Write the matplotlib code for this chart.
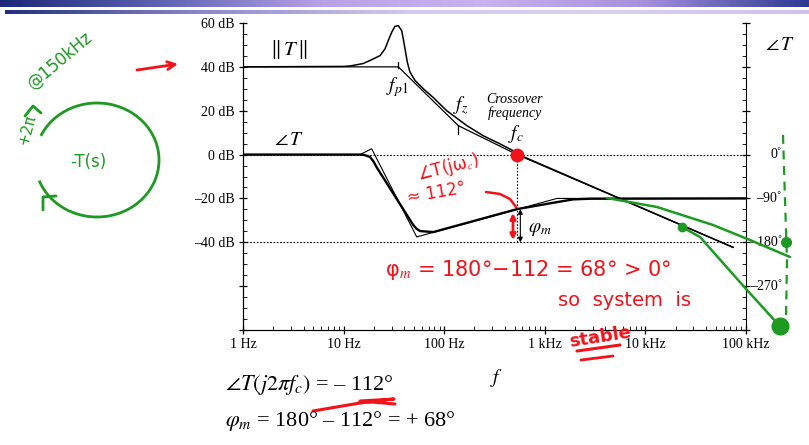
import matplotlib.pyplot as plt
import matplotlib.transforms as mtransforms
from matplotlib.colors import LinearSegmentedColormap
from matplotlib.lines import Line2D
from matplotlib.patches import FancyArrowPatch, Arc
from matplotlib.ticker import FixedLocator, MultipleLocator, LogLocator, NullFormatter
import numpy as np

plt.rcParams['font.family'] = ['Liberation Serif', 'DejaVu Serif', 'DejaVu Sans']
plt.rcParams['mathtext.fontset'] = 'stix'

W, H = 809, 445

# loop gain magnitude ||T|| (dB), exact curve
mag_f = [1, 10, 11.6, 15.6, 18.3, 23.0, 25.8, 27.8, 30.1, 32.4, 35.0, 37.8, 39.2, 40.8,
         43.0, 45.7, 51.3, 62.0, 77.9, 106, 168, 244, 358, 483, 529, 74300]
mag_db = [40, 40.2, 40.4, 41.5, 42.9, 45.1, 48.2, 52, 55.8, 58.5, 58.8, 56.5, 52.7, 48.2,
          42.1, 37.6, 33.8, 30.0, 26, 20, 13.2, 8.6, 4.9, 1.8, 0.3, -42.3]
# magnitude asymptotes
mag_asym_f = [1, 35.0, 138, 529, 74300]
mag_asym_db = [40, 40, 13.2, 0, -42.3]

# phase of T (deg), exact and asymptotes
ph_f = [1, 14.6, 16.2, 18.3, 19.8, 21.3, 49.4, 53, 57.5, 78, 529, 1318, 1910, 2800, 1e5]
ph_deg = [0, 0, -1, -5, -14, -26, -145, -152, -157, -159, -112, -97.6, -92, -90.6, -90]
ph_asym_f = [1, 14.6, 19.0, 53.3, 1318, 1e5]
ph_asym_deg = [0, 0, 12, -169, -90, -90]

fp1, fz, fc = 35.0, 138, 529
phase_fc = -112

mag_labels = ['60 dB', '40 dB', '20 dB', '0 dB', '–20 dB', '–40 dB']
ph_ticks = [0, -90, -180, -270]
ph_labels = ['0˚', '–90˚', '–180˚', '–270˚']
f_ticks = [1, 10, 100, 1e3, 1e4, 1e5]
f_labels = ['1 Hz', '10 Hz', '100 Hz', '1 kHz', '10 kHz', '100 kHz']

fig = plt.figure(figsize=(W / 100, H / 100), dpi=100)
ax = fig.add_axes([243 / W, 1 - 330 / H, 503 / W, 307 / H])
ax2 = ax.twinx()

# header bars
cm1 = LinearSegmentedColormap.from_list('b1', ['#1b2878', '#5f63b4', '#b9a3e6', '#c9b2ee', '#a58fdc', '#2c3a92'])
cm2 = LinearSegmentedColormap.from_list('b2', ['#23307f', '#8d8ccc', '#d4c8f0', '#d9cff3', '#cfc1ef'])
grad = np.linspace(0, 1, 256)[None, :]
bar1 = fig.add_axes([0, 1 - 7 / H, 1, 7 / H])
bar1.imshow(grad, cmap=cm1, aspect='auto')
bar1.axis('off')
bar2 = fig.add_axes([5 / W, 1 - 14 / H, 1 - 5 / W, 4 / H])
bar2.imshow(grad, cmap=cm2, aspect='auto')
bar2.axis('off')

# magnitude
ax.plot(mag_asym_f, mag_asym_db, color='k', lw=0.9)
ax.plot(mag_f, mag_db, color='k', lw=1.1)
ax.plot([fp1, fp1], [39.3, 42.1], color='k', lw=0.9)
ax.plot([fz, fz], [9.5, 13.5], color='k', lw=0.9)
ax.axhline(0, color='k', ls=(0, (1.5, 1.5)), lw=0.8)
ax.axhline(-40, color='k', ls=(0, (1.5, 1.5)), lw=0.8)
ax.plot([fc, fc], [-40, 0], color='k', ls=(0, (1.5, 1.5)), lw=0.8)

# phase
ax2.plot(ph_asym_f, ph_asym_deg, color='k', lw=0.8)
ax2.plot(ph_f, ph_deg, color='k', lw=1.7)
ax2.annotate('', xy=(fc * 1.08, -180), xytext=(fc * 1.08, phase_fc),
             arrowprops=dict(arrowstyle='<|-|>', color='k', lw=0.8, mutation_scale=7, shrinkA=0, shrinkB=0))

ax.set_xscale('log')
ax.set_xlim(1, 1e5)
ax.set_ylim(-80, 60)
ax2.set_ylim(-360, 270)

for a in (ax, ax2):
    a.spines['top'].set_visible(False)
ax.spines['right'].set_visible(False)

ax.yaxis.set_major_locator(FixedLocator([60, 40, 20, 0, -20, -40, -60, -80]))
ax.set_yticklabels(mag_labels + ['', ''])
ax.yaxis.set_minor_locator(MultipleLocator(5))
ax.xaxis.set_major_locator(FixedLocator(f_ticks))
ax.set_xticklabels(f_labels)
ax.xaxis.set_minor_locator(LogLocator(base=10, subs=np.arange(2, 10)))
ax.xaxis.set_minor_formatter(NullFormatter())
ax.tick_params(axis='both', which='major', direction='inout', length=6, width=0.9, labelsize=10, pad=3)
ax.tick_params(axis='both', which='minor', direction='in', length=3, width=0.6)

ax2.yaxis.set_major_locator(FixedLocator([270, 180, 90, 0, -90, -180, -270, -360]))
ax2.yaxis.set_major_formatter(NullFormatter())
ax2.yaxis.set_minor_locator(MultipleLocator(22.5))
ax2.tick_params(axis='y', which='major', direction='inout', length=6, width=0.9)
ax2.tick_params(axis='y', which='minor', direction='in', length=3, width=0.6)
trans = mtransforms.blended_transform_factory(fig.transFigure, ax2.transData)
for d, lab in zip(ph_ticks, ph_labels):
    ax2.text(782 / W, d, lab, transform=trans, ha='right', va='center', fontsize=10)

# labels on the chart
ax.text(2.87, 48, r'$\Vert\, T\, \Vert$', ha='center', va='center', fontsize=15)
ax.text(2.87, 6.4, r'$\angle\, T$', ha='center', va='center', fontsize=14)
fig.text(795 / W, 1 - 45 / H, r'$\angle\, T$', ha='right', va='center', fontsize=14)
ax.text(33.9, 30.9, r'$f_{p1}$', ha='center', va='center', fontsize=14)
ax.text(147, 22.3, r'$f_z$', ha='center', va='center', fontsize=14)
ax.text(505, 21.8, 'Crossover\nfrequency', ha='center', va='center', fontsize=10,
        style='italic', linespacing=1.0)
ax.text(519, 9.5, r'$f_c$', ha='center', va='center', fontsize=14)
ax2.text(893, -153, r'$\varphi_m$', ha='center', va='center', fontsize=14)
fig.text(497 / W, 1 - 378 / H, r'$f$', ha='center', va='center', fontsize=14)

fig.text(225 / W, 1 - 385 / H, r'$\angle T(j2\pi f_c)$ = – 112°', ha='left', va='center', fontsize=16)
fig.text(225 / W, 1 - 421 / H, r'$\varphi_m$ = 180° – 112° = + 68°', ha='left', va='center', fontsize=16)

# handwritten notes
red, green = '#f4121a', '#1c9a22'


def stroke(pts, color, lw=2.2, **kw):
    xs = [p[0] / W for p in pts]
    ys = [1 - p[1] / H for p in pts]
    fig.add_artist(Line2D(xs, ys, color=color, lw=lw, solid_capstyle='round',
                          solid_joinstyle='round', **kw))


def arrow(p0, p1, color, style='-|>', lw=2.0, ms=10):
    fig.add_artist(FancyArrowPatch((p0[0] / W, 1 - p0[1] / H), (p1[0] / W, 1 - p1[1] / H),
                                   transform=fig.transFigure, arrowstyle=style, color=color,
                                   lw=lw, mutation_scale=ms, shrinkA=0, shrinkB=0))


hand = dict(family='DejaVu Sans')
ax.plot(fc, 0, 'o', color=red, ms=9, zorder=5)
arrow((137, 70), (178, 64), red, style='->', ms=14)
fig.text(448 / W, 1 - 168 / H, '∠T(jω$_c$)', color=red, fontsize=12, rotation=14,
         ha='center', va='center', **hand)
fig.text(436 / W, 1 - 193 / H, '≈ 112°', color=red, fontsize=12, rotation=10,
         ha='center', va='center', **hand)
stroke([(486, 192), (500, 194), (510, 199), (516, 207)], red, lw=1.8)
arrow((513, 213), (513, 240), red, style='<|-|>', lw=2.0, ms=8)
fig.text(528 / W, 1 - 270 / H, 'φ$_m$ = 180°−112 = 68° > 0°', color=red, fontsize=15,
         ha='center', va='center', **hand)
fig.text(625 / W, 1 - 300 / H, 'so  system  is', color=red, fontsize=14,
         ha='center', va='center', **hand)
fig.text(600 / W, 1 - 337 / H, 'stable', color=red, fontsize=13, rotation=9,
         ha='center', va='center', weight='bold', **hand)
stroke([(577, 351), (620, 345)], red, lw=2.2)
stroke([(581, 360), (613, 356)], red, lw=2.0)
stroke([(313, 411), (360, 403), (394, 399), (360, 401), (395, 404)], red, lw=2.2)

# green notes
stroke([(607, 198), (657, 207), (713, 225), (750, 240), (790, 257)], green, lw=1.8)
stroke([(682, 227), (700, 237), (723, 263), (747, 290), (777, 323)], green, lw=1.8)
ax.plot(23000, -33, 'o', color=green, ms=6, zorder=5)
fig.add_artist(Line2D([780 / W], [1 - 326 / H], marker='o', ms=12, color=green))
fig.add_artist(Line2D([786 / W], [1 - 242 / H], marker='o', ms=7, color=green))
stroke([(783, 135), (785, 200), (787, 260), (786, 318)], green, lw=1.6, ls=(0, (4, 3)))

fig.text(60 / W, 1 - 60 / H, '@150kHz', color=green, fontsize=12, rotation=40,
         ha='center', va='center', **hand)
fig.text(88 / W, 1 - 162 / H, '-T(s)', color=green, fontsize=12,
         ha='center', va='center', **hand)
fig.text(27 / W, 1 - 130 / H, '+2π', color=green, fontsize=11, rotation=75,
         ha='center', va='center', **hand)
fig.add_artist(Arc((97 / W, 1 - 160 / H), 2 * 62 / W, 2 * 57 / H, theta1=-147, theta2=142,
                   transform=fig.transFigure, color=green, lw=2.0))
stroke([(25, 116), (33, 106), (41, 113)], green, lw=2.0)
stroke([(43, 210), (43, 197), (56, 196)], green, lw=2.0)

fig.savefig('out.png', dpi=100)
